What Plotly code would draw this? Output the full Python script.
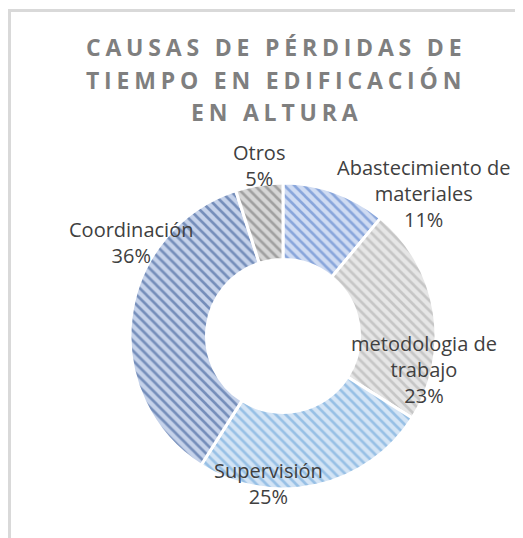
import plotly.graph_objects as go

# ---- data ----
categories = ["Abastecimiento de materiales", "metodologia de trabajo", "Supervisión", "Coordinación", "Otros"]
display_labels = ["Abastecimiento de<br>materiales", "metodologia de<br>trabajo", "Supervisión", "Coordinación", "Otros"]
values = [11, 23, 25, 36, 5]
title_lines = ["CAUSAS DE PÉRDIDAS DE", "TIEMPO EN EDIFICACIÓN", "EN ALTURA"]

# ---- styles ----
OFF = 8  # default page body margin
W, H = 523 - OFF, 538 - OFF
bg_colors = ["#cfdbf2", "#e6e6e6", "#d3e4f5", "#c5d2ea", "#d6d6d6"]
fg_colors = ["#4472c4", "#a5a5a5", "#5b9bd5", "#264a8a", "#6a6a6a"]
label_pos = [(423, 193), (424, 369), (268, 483), (131, 242), (259, 165)]  # pixel centers (page coords)


def px(x):
    return (x - OFF) / W


def py(y):
    return 1 - (y - OFF) / H


cx, cy, r = 283, 336, 153

fig = go.Figure()
fig.add_trace(go.Pie(
    labels=categories,
    values=values,
    sort=False,
    direction="clockwise",
    rotation=0,
    hole=0.5,
    textinfo="none",
    hoverinfo="label+percent",
    showlegend=False,
    marker=dict(
        colors=bg_colors,
        line=dict(color="white", width=3),
        pattern=dict(shape="\\", fgcolor=fg_colors, bgcolor=bg_colors,
                     size=7, solidity=0.38, fillmode="overlay"),
    ),
    domain=dict(x=[px(cx - r), px(cx + r)], y=[py(cy + r), py(cy - r)]),
))

total = sum(values)
annotations = []
for lab, v, (lx, ly) in zip(display_labels, values, label_pos):
    annotations.append(dict(
        x=px(lx), y=py(ly), xref="paper", yref="paper",
        xanchor="center", yanchor="middle", showarrow=False,
        text=f"{lab}<br>{round(100 * v / total)}%",
        font=dict(family="Open Sans", size=20, color="#404040"),
        align="center",
    ))

title_y = [47, 80, 112]
for line, ty in zip(title_lines, title_y):
    annotations.append(dict(
        x=px(276), y=py(ty), xref="paper", yref="paper",
        xanchor="center", yanchor="middle", showarrow=False,
        text=f"<b><span style='letter-spacing:4.8px'>{line}</span></b>",
        font=dict(family="Open Sans", size=23, color="#7f7f7f"),
    ))

fig.update_layout(
    width=W, height=H,
    margin=dict(l=0, r=0, t=0, b=0),
    paper_bgcolor="white",
    plot_bgcolor="white",
    annotations=annotations,
    shapes=[dict(type="rect", xref="paper", yref="paper",
                 x0=px(9.5), x1=1.2, y0=-0.2, y1=py(10.5),
                 line=dict(color="#d9d9d9", width=3), fillcolor="rgba(0,0,0,0)", layer="below")],
)

fig.write_html("out.html")
